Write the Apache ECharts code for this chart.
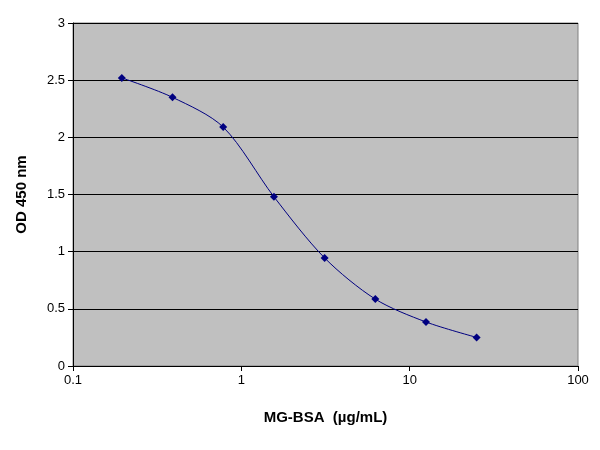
<!DOCTYPE html>
<html><head><meta charset="utf-8">
<script src="https://cdn.jsdelivr.net/npm/echarts@6/dist/echarts.min.js"></script>
<style>html,body{margin:0;padding:0;background:#fff}#c{width:600px;height:450px}</style>
</head><body><div id="c"></div>
<script>
const concentrations = [0.195, 0.39, 0.78, 1.5625, 3.125, 6.25, 12.5, 25];
const odValues = [2.52, 2.35, 2.09, 1.48, 0.945, 0.585, 0.385, 0.25];
const yTicks = [0, 0.5, 1, 1.5, 2, 2.5, 3];
const chart = echarts.init(document.getElementById('c'));
const font = 'Arial, "Liberation Sans", sans-serif';
chart.setOption({
  animation: false,
  backgroundColor: '#fff',
  grid: {left: 73, right: 22, top: 23, bottom: 84, show: true, backgroundColor: '#c0c0c0', borderColor: '#808080', borderWidth: 1},
  xAxis: {
    type: 'log', logBase: 10, min: 0.1, max: 100,
    name: 'MG-BSA  (µg/mL)', nameLocation: 'middle', nameGap: 44,
    nameTextStyle: {fontFamily: font, fontWeight: 'bold', fontSize: 15, color: '#000'},
    axisLine: {lineStyle: {color: '#000'}},
    axisTick: {show: true, inside: false, lineStyle: {color: '#000'}},
    minorTick: {show: false},
    splitLine: {show: false},
    axisLabel: {fontFamily: font, fontSize: 13, color: '#000', formatter: v => String(v)}
  },
  yAxis: {
    type: 'value', min: 0, max: 3, interval: 0.5,
    name: 'OD 450 nm', nameLocation: 'middle', nameGap: 44,
    nameTextStyle: {fontFamily: font, fontWeight: 'bold', fontSize: 15, color: '#000'},
    axisLine: {show: true, lineStyle: {color: '#000'}},
    axisTick: {show: true, lineStyle: {color: '#000'}},
    splitLine: {show: true, lineStyle: {color: '#000', width: 1}},
    axisLabel: {fontFamily: font, fontSize: 13, color: '#000', formatter: v => yTicks.includes(v) ? String(v) : ''}
  },
  series: [{
    type: 'line', smooth: 0.3,
    data: concentrations.map((c, i) => [c, odValues[i]]),
    symbol: 'diamond', symbolSize: 8,
    lineStyle: {color: '#000080', width: 1},
    itemStyle: {color: '#000080'}
  }]
});
</script></body></html>
